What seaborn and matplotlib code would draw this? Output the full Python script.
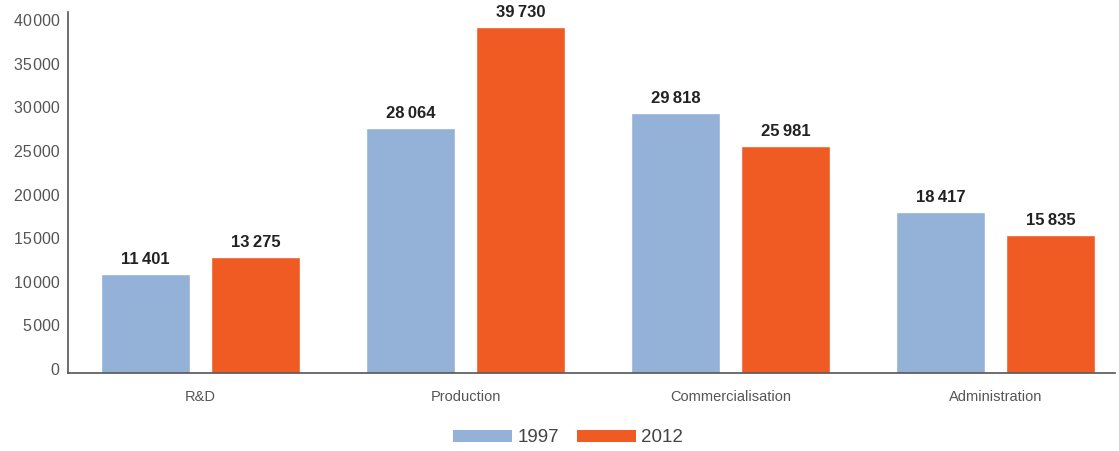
import matplotlib
matplotlib.use("Agg")
import matplotlib.pyplot as plt
import matplotlib.transforms as mtransforms
import seaborn as sns
import pandas as pd
from matplotlib.ticker import FuncFormatter
from matplotlib.patches import Patch

categories = ["R&D", "Production", "Commercialisation", "Administration"]
years = ["1997", "2012"]
values_1997 = [11401, 28064, 29818, 18417]
values_2012 = [13275, 39730, 25981, 15835]
y_ticks = [0, 5000, 10000, 15000, 20000, 25000, 30000, 35000, 40000]

colors = {"1997": "#94B1D7", "2012": "#F05A23"}

rows = []
for c, a, b in zip(categories, values_1997, values_2012):
    rows.append({"category": c, "year": "1997", "value": a})
    rows.append({"category": c, "year": "2012", "value": b})
df = pd.DataFrame(rows)

sns.set_style("white")
plt.rcParams["font.family"] = ["Liberation Sans", "DejaVu Sans"]

def fmt(v, sep="\u2009"):
    s = f"{int(v):,}"
    return s.replace(",", sep)

fig = plt.figure(figsize=(11.19, 4.51), dpi=100)
ax = fig.add_axes([0.0608, 0.173, 0.9356, 0.80])

sns.barplot(data=df, x="category", y="value", hue="year", hue_order=years,
            order=categories, palette=colors, width=0.83, gap=0.19,
            saturation=1, ax=ax, legend=False, errorbar=None)

ax.set_xlim(-0.5, 3.45)
ax.set_ylim(0, 41375)
ax.set_yticks(y_ticks)
ax.yaxis.set_major_formatter(FuncFormatter(lambda v, p: fmt(v, "\u200a")))
ax.tick_params(axis="y", length=0, pad=6, labelsize=11.5, labelcolor="#555555")
ax.tick_params(axis="x", length=0, pad=12, labelsize=10.5, labelcolor="#555555")
shift = mtransforms.ScaledTranslation(0, 4 / 100, fig.dpi_scale_trans)
for tick in ax.yaxis.get_major_ticks():
    tick.label1.set_transform(tick.label1.get_transform() + shift)
ax.set_xlabel("")
ax.set_ylabel("")

for side in ["top", "right"]:
    ax.spines[side].set_visible(False)
for side in ["left", "bottom"]:
    ax.spines[side].set_color("#555555")
    ax.spines[side].set_linewidth(1.2)

for cont, yr in zip(ax.containers, years):
    vals = values_1997 if yr == "1997" else values_2012
    ax.bar_label(cont, labels=[fmt(v) for v in vals], padding=5,
                 fontsize=12, fontweight="bold", color="#222222")

handles = [Patch(facecolor=colors[y], edgecolor="none", label=y) for y in years]
leg = fig.legend(handles=handles, loc="center", bbox_to_anchor=(0.5076, 0.029),
                 ncol=2, frameon=False, fontsize=13.5, handlelength=3.15,
                 handleheight=0.6, handletextpad=0.3, columnspacing=0.95)
for t in leg.get_texts():
    t.set_color("#444444")

fig.savefig("out.png", dpi=100)
